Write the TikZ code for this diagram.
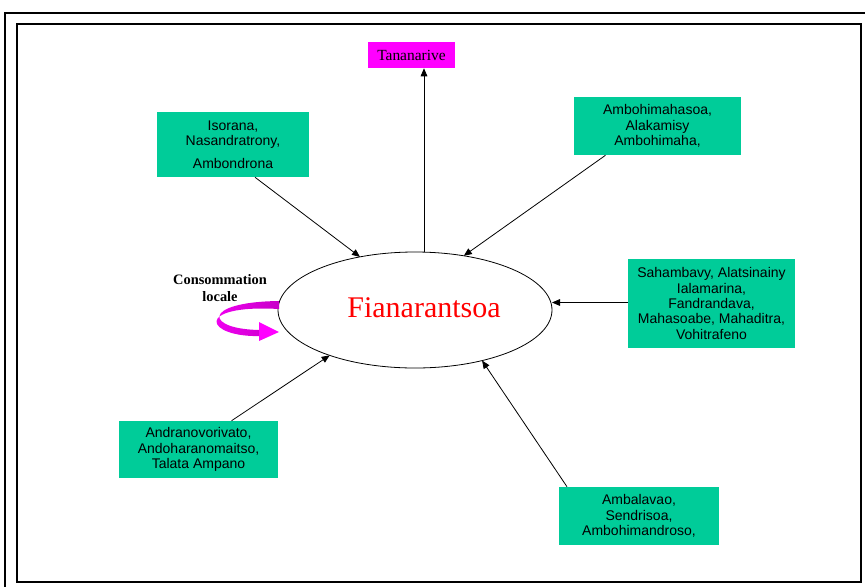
\documentclass[tikz,border=0pt]{standalone}
\usepackage{fontspec}
\setmainfont{Liberation Serif}
\newfontfamily\boxfont{Liberation Sans}
\usetikzlibrary{calc,shapes.geometric,arrows.meta}
\definecolor{vert}{RGB}{0,204,153}
\definecolor{rose}{RGB}{255,0,255}
\definecolor{violet2}{RGB}{200,0,200}
\tikzset{
	lieu/.style={fill=vert, inner sep=0pt, align=center, font=\boxfont\fontsize{10.5}{11.6}\selectfont},
	fleche/.style={-{Triangle[length=6pt,width=5pt]}, line width=0.6pt}
}

\begin{document}
\begin{tikzpicture}[x=0.75pt, y=-0.75pt]
		%%%%% START %%%%%
		\useasboundingbox (0,0) rectangle (865,587);
		\fill[white] (0,0) rectangle (865,587);
		
		\draw[line width=1pt] (865,13) -- (5,13) -- (5,587);
		\draw[line width=1pt] (17,24) rectangle (861,582);
		
		\node[draw, ellipse, minimum width=205.5pt, minimum height=87pt, outer sep=0pt, line width=0.6pt] (fian) at (415,310) {};
		\node[red, font=\fontsize{22.5}{26}\selectfont] at (424,308) {Fianarantsoa};
		
		\node[fill=rose, inner sep=0pt, minimum width=65.25pt, minimum height=19.5pt, font=\fontsize{11.6}{13}\selectfont] (tana) at (411.5,55) {Tananarive};
		
		\node[lieu, minimum width=114pt, minimum height=48.75pt] (isor) at (233,144.5) {Isorana,\\Nasandratrony,\\[5pt]Ambondrona};
		\node[lieu, minimum width=125.25pt, minimum height=43.5pt] (amboh) at (657.5,126) {Ambohimahasoa,\\Alakamisy\\Ambohimaha,};
		\node[lieu, minimum width=125.25pt, minimum height=66.75pt] (saha) at (711.5,303.5) {Sahambavy, Alatsinainy\\Ialamarina,\\Fandrandava,\\Mahasoabe, Mahaditra,\\Vohitrafeno};
		\node[lieu, minimum width=119.25pt, minimum height=42.75pt] (andr) at (198.5,449.5) {Andranovorivato,\\Andoharanomaitso,\\Talata Ampano};
		\node[lieu, minimum width=120pt, minimum height=43.5pt] (ambal) at (639,516) {Ambalavao,\\Sendrisoa,\\Ambohimandroso,};
		
		\coordinate (haut) at ($(fian.north)+(9,0)$);
		\draw[fleche] (haut) -- (haut |- tana.south);
		
		\draw[fleche] ($(isor.south)+(22,0)$) -- (fian.136);
		\draw[fleche] ($(amboh.south)+(-52,0)$) -- (fian.48);
		\draw[fleche] ($(saha.west)+(0,-1)$) -- ($(saha.west -| fian.east)+(0,-1)$);
		\draw[fleche] ($(andr.north)+(33,0)$) -- (fian.-152);
		\draw[fleche] ($(ambal.north)+(-72,0)$) -- (fian.-37);
		
		\node[align=center, font=\bfseries\fontsize{10.8}{12.5}\selectfont] (conso) at (220,288) {Consommation\\locale};
		\shade[left color=rose, right color=violet2] (279,301) .. controls (200,302) and (205,330) .. (262,330) -- (262,336) .. controls (205,338) and (192,304) .. (279,309) -- cycle;
		\fill[rose] (259,322) -- (279,332) -- (259,341) -- cycle;
		%%%%% END %%%%%
	\end{tikzpicture}
\end{document}
